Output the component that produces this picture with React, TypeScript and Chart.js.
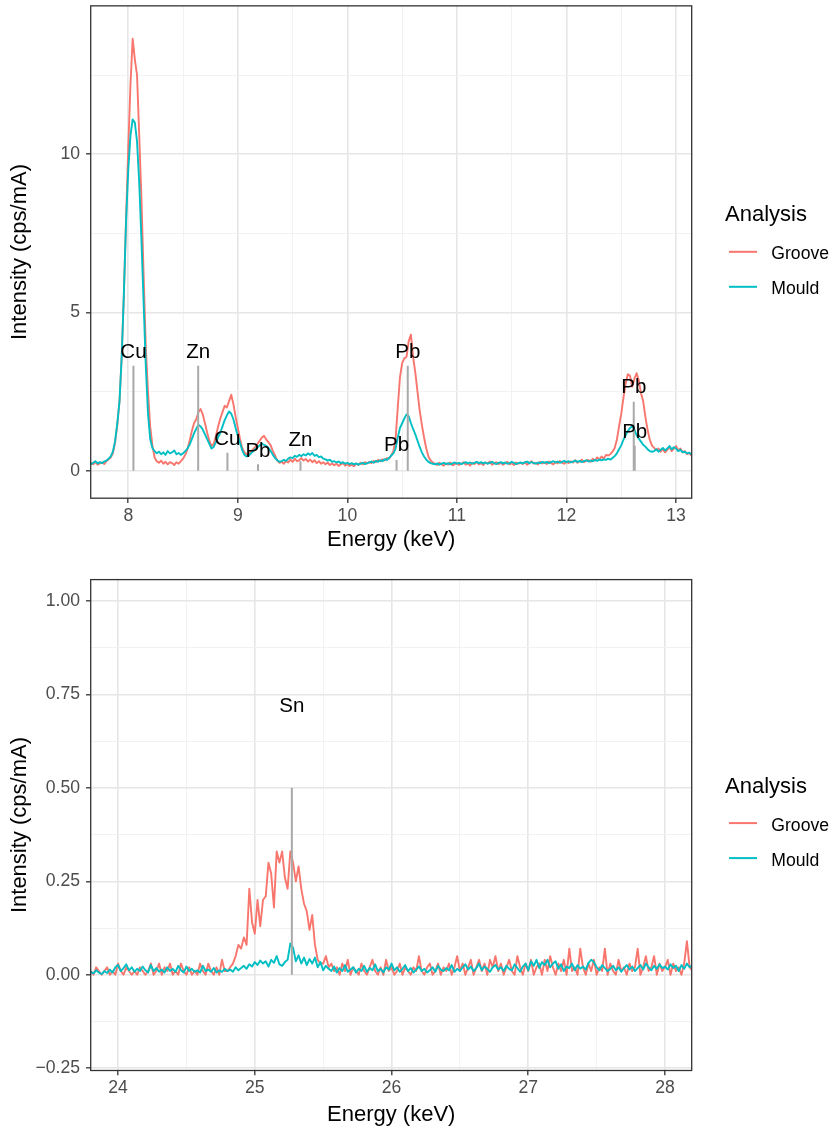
import React, { useEffect, useRef } from "react";
import { Chart, registerables } from "chart.js";

Chart.register(...registerables);

const FONT = '"Liberation Sans", Arial, Helvetica, sans-serif';
const PAGE_W = 835;

const SERIES_NAMES = ["Groove", "Mould"];
const SERIES_COLORS = ["#F8766D", "#00BFC4"];
const REF_COLOR = "#A9A9A9";
const LEGEND_TITLE = "Analysis";
const X_TITLE = "Energy (keV)";
const Y_TITLE = "Intensity (cps/mA)";

const STEP_KEV = 0.02;

// ---------- Upper panel (7.6 – 13.18 keV, 0.02 keV channels) ----------
const TOP_START_KEV = 7.6;
const TOP_GROOVE = [
  0.22, 0.25, 0.18, 0.24, 0.2, 0.28, 0.19, 0.23, 0.26, 0.21,
  0.3, 0.36, 0.42, 0.55, 0.9, 1.45, 2.2, 3.6, 5.6, 8.0,
  10.2, 12.2, 13.65, 13.0, 12.5, 10.6, 8.6, 6.2, 3.9, 2.5,
  1.4, 0.8, 0.42, 0.3, 0.25, 0.32, 0.22, 0.28, 0.2, 0.27,
  0.24, 0.18, 0.27, 0.22, 0.3, 0.38, 0.5, 0.68, 0.95, 1.25,
  1.5, 1.62, 1.85, 1.95, 1.78, 1.5, 1.2, 0.95, 0.78, 0.85,
  1.1, 1.4, 1.65, 1.85, 2.05, 2.0, 2.2, 2.4, 2.1, 1.7,
  1.35, 1.0, 0.72, 0.58, 0.52, 0.55, 0.6, 0.68, 0.75, 0.85,
  0.95, 1.05, 1.1, 0.98, 0.9, 0.8, 0.62, 0.48, 0.32, 0.25,
  0.28, 0.22, 0.3, 0.26, 0.35, 0.28, 0.38, 0.3, 0.33, 0.4,
  0.32, 0.37, 0.29, 0.35, 0.27, 0.33, 0.24, 0.3, 0.22, 0.27,
  0.2, 0.26, 0.18, 0.23, 0.17, 0.22, 0.15, 0.2, 0.24, 0.16,
  0.21, 0.15, 0.19, 0.14, 0.22, 0.18, 0.25, 0.2, 0.27, 0.23,
  0.28, 0.24, 0.31, 0.27, 0.34, 0.3, 0.36, 0.33, 0.4, 0.38,
  0.48, 0.62, 1.0, 2.0, 2.95, 3.4, 3.55, 3.6, 4.1, 4.3,
  3.6, 3.1, 2.5, 1.9, 1.45, 1.05, 0.7, 0.45, 0.32, 0.26,
  0.22, 0.18, 0.25, 0.2, 0.16, 0.23, 0.19, 0.26, 0.17, 0.21,
  0.24, 0.18, 0.22, 0.27, 0.19, 0.23, 0.16, 0.25, 0.21, 0.28,
  0.2, 0.24, 0.18, 0.26, 0.22, 0.29, 0.19, 0.23, 0.27, 0.21,
  0.25, 0.19, 0.23, 0.28, 0.2, 0.24, 0.18, 0.26, 0.22, 0.25,
  0.21, 0.27, 0.19, 0.24, 0.3, 0.22, 0.25, 0.2, 0.28, 0.23,
  0.26, 0.21, 0.29, 0.24, 0.2, 0.27, 0.23, 0.31, 0.25, 0.22,
  0.28, 0.24, 0.3, 0.26, 0.33, 0.25, 0.29, 0.35, 0.27, 0.31,
  0.34, 0.28, 0.38, 0.32, 0.42, 0.35, 0.45, 0.38, 0.5, 0.48,
  0.52, 0.6, 0.72, 0.98, 1.4, 1.8, 2.3, 2.75, 3.05, 3.0,
  2.65, 2.9, 3.08, 2.85, 2.45, 2.2, 1.7, 1.3, 0.98, 0.8,
  0.72, 0.65, 0.7, 0.6, 0.68, 0.58, 0.66, 0.75, 0.62, 0.7,
  0.78, 0.64, 0.7, 0.58, 0.62, 0.52, 0.56, 0.48, 0.55, 0.5,
];
const TOP_MOULD = [
  0.26, 0.22, 0.28, 0.21, 0.25, 0.3, 0.23, 0.27, 0.24, 0.29,
  0.32, 0.38, 0.45, 0.6, 0.95, 1.5, 2.2, 3.6, 5.6, 7.9,
  9.5, 10.6, 11.1, 11.0, 10.4, 9.1, 7.3, 5.3, 3.3, 1.8,
  1.0, 0.72, 0.62, 0.55, 0.6, 0.52, 0.58, 0.5, 0.62, 0.55,
  0.58, 0.64, 0.52, 0.56, 0.5, 0.55, 0.62, 0.7, 0.82, 1.0,
  1.18, 1.32, 1.45, 1.4, 1.3, 1.15, 1.0, 0.85, 0.7, 0.75,
  0.9, 1.05, 1.2, 1.4, 1.6, 1.75, 1.87, 1.8, 1.62, 1.35,
  1.1, 0.88, 0.65, 0.5, 0.45, 0.48, 0.55, 0.62, 0.68, 0.74,
  0.8, 0.85, 0.82, 0.78, 0.72, 0.62, 0.5, 0.4, 0.33, 0.28,
  0.3, 0.34, 0.31, 0.38, 0.42, 0.4, 0.47, 0.44, 0.5, 0.46,
  0.52, 0.48, 0.55, 0.5, 0.56, 0.47, 0.5, 0.43, 0.45, 0.38,
  0.36, 0.32, 0.35, 0.28, 0.3, 0.26, 0.29, 0.24, 0.27, 0.22,
  0.25, 0.21, 0.24, 0.2, 0.23, 0.19, 0.22, 0.25, 0.21, 0.24,
  0.26, 0.29, 0.25, 0.31, 0.28, 0.33, 0.3, 0.36, 0.34, 0.4,
  0.48, 0.55, 0.7, 1.05, 1.35, 1.5, 1.65, 1.78, 1.72, 1.5,
  1.32, 1.15, 0.95, 0.75, 0.58, 0.45, 0.35, 0.28, 0.24, 0.22,
  0.2, 0.23, 0.19, 0.22, 0.25, 0.21, 0.24, 0.2, 0.23, 0.26,
  0.22, 0.25, 0.21, 0.24, 0.27, 0.23, 0.26, 0.22, 0.25, 0.28,
  0.24, 0.27, 0.23, 0.26, 0.22, 0.25, 0.28, 0.24, 0.21, 0.25,
  0.27, 0.23, 0.26, 0.22, 0.24, 0.28, 0.25, 0.21, 0.24, 0.26,
  0.23, 0.26, 0.29, 0.24, 0.27, 0.25, 0.22, 0.26, 0.24, 0.28,
  0.25, 0.28, 0.24, 0.27, 0.3, 0.26, 0.29, 0.25, 0.28, 0.31,
  0.27, 0.3, 0.26, 0.29, 0.32, 0.28, 0.31, 0.27, 0.3, 0.33,
  0.29, 0.32, 0.3, 0.34, 0.31, 0.35, 0.33, 0.36, 0.34, 0.38,
  0.35, 0.4, 0.46, 0.55, 0.68, 0.8, 0.98, 1.12, 1.25, 1.35,
  1.4, 1.3, 1.12, 1.02, 0.92, 0.82, 0.76, 0.68, 0.62, 0.6,
  0.62, 0.68, 0.6, 0.66, 0.72, 0.64, 0.7, 0.78, 0.68, 0.74,
  0.7, 0.62, 0.66, 0.58, 0.6, 0.55, 0.57, 0.52, 0.54, 0.5,
];
const TOP_LINE_LABELS = ["Cu", "Zn", "Cu", "Pb", "Zn", "Pb", "Pb", "Pb", "Pb"];
const TOP_LINE_KEV = [8.047, 8.638, 8.905, 9.184, 9.572, 10.449, 10.551, 12.614, 12.623];
const TOP_LINE_HEIGHT = [3.32, 3.32, 0.57, 0.2, 0.3, 0.34, 3.32, 2.18, 0.79];
const TOP_LABEL_Y = [3.745, 3.745, 0.986, 0.616, 0.97, 0.787, 3.736, 2.63, 1.207];
const TOP_X_MAJOR = [8, 9, 10, 11, 12, 13];
const TOP_X_LABELS = ["8", "9", "10", "11", "12", "13"];
const TOP_X_MINOR = [8.5, 9.5, 10.5, 11.5, 12.5];
const TOP_Y_MAJOR = [0, 5, 10];
const TOP_Y_LABELS = ["0", "5", "10"];
const TOP_Y_MINOR = [2.5, 7.5, 12.5];
const TOP_X_RANGE = [7.657, 13.143];
const TOP_Y_RANGE = [-0.869, 14.69];

// ---------- Lower panel (23.8 – 28.22 keV, 0.02 keV channels) ----------
const BOT_START_KEV = 23.8;
const BOT_GROOVE = [
  0.01, 0.0, 0.02, 0.01, 0.0, 0.01, 0.02, 0.0, 0.01, 0.0,
  0.03, 0.01, 0.0, 0.02, 0.01, 0.0, 0.01, 0.0, 0.02, 0.01,
  0.0, 0.01, 0.03, 0.0, 0.01, 0.03, 0.0, 0.02, 0.01, 0.03,
  0.0, 0.01, 0.0, 0.03, 0.01, 0.0, 0.02, 0.0, 0.01, 0.0,
  0.03, 0.01, 0.0, 0.03, 0.01, 0.0, 0.02, 0.0, 0.04, 0.01,
  0.01, 0.02, 0.03, 0.05, 0.08, 0.07, 0.1, 0.08, 0.23, 0.14,
  0.11, 0.2, 0.13, 0.2, 0.21, 0.3, 0.27, 0.18, 0.33, 0.3,
  0.33, 0.26, 0.23, 0.33, 0.3, 0.25, 0.29, 0.23, 0.19, 0.17,
  0.12, 0.16, 0.08, 0.04, 0.03, 0.03, 0.05, 0.02, 0.03, 0.01,
  0.02, 0.0, 0.03, 0.01, 0.04, 0.0, 0.02, 0.01, 0.0, 0.03,
  0.01, 0.0, 0.02, 0.04, 0.01, 0.0, 0.02, 0.0, 0.04, 0.01,
  0.02, 0.0, 0.01, 0.03, 0.0, 0.02, 0.01, 0.0, 0.02, 0.01,
  0.05, 0.01, 0.0, 0.02, 0.03, 0.0, 0.01, 0.03, 0.0, 0.02,
  0.01, 0.03, 0.0, 0.02, 0.05, 0.01, 0.03, 0.0, 0.02, 0.04,
  0.0, 0.02, 0.04, 0.01, 0.03, 0.0, 0.04, 0.02, 0.05, 0.01,
  0.03, 0.0, 0.02, 0.04, 0.01, 0.0, 0.05, 0.02, 0.0, 0.03,
  0.01, 0.04, 0.0, 0.02, 0.03, 0.0, 0.04, 0.01, 0.05, 0.02,
  0.0, 0.03, 0.01, 0.04, 0.0, 0.07, 0.01, 0.02, 0.0, 0.07,
  0.02, 0.0, 0.03, 0.01, 0.04, 0.0, 0.02, 0.01, 0.07, 0.0,
  0.03, 0.01, 0.0, 0.04, 0.01, 0.02, 0.0, 0.03, 0.01, 0.02,
  0.07, 0.0, 0.02, 0.05, 0.01, 0.02, 0.05, 0.0, 0.03, 0.01,
  0.02, 0.04, 0.0, 0.03, 0.01, 0.02, 0.0, 0.03, 0.09, 0.02,
  0.01, 0.03,
];
const BOT_MOULD = [
  0.008, 0.004, 0.012, 0.006, 0.002, 0.01, 0.005, 0.014, 0.006, 0.02,
  0.026, 0.01, 0.018, 0.028, 0.012, 0.02, 0.008, 0.016, 0.01, 0.022,
  0.012, 0.006, 0.026, 0.01, 0.018, 0.008, 0.014, 0.006, 0.02, 0.01,
  0.016, 0.008, 0.024, 0.012, 0.006, 0.022, 0.01, 0.016, 0.008, 0.012,
  0.006, 0.024, 0.01, 0.014, 0.008, 0.018, 0.006, 0.012, 0.008, 0.016,
  0.01, 0.014, 0.008, 0.02, 0.012, 0.018, 0.024, 0.016, 0.028, 0.022,
  0.034, 0.026, 0.038, 0.03, 0.036, 0.022, 0.04, 0.032, 0.05, 0.028,
  0.024, 0.034, 0.04, 0.084, 0.072, 0.036, 0.052, 0.03, 0.046, 0.026,
  0.042, 0.03, 0.046, 0.02, 0.034, 0.012, 0.024, 0.016, 0.01, 0.022,
  0.006, 0.018, 0.01, 0.026, 0.008, 0.014, 0.02, 0.006, 0.016, 0.01,
  0.024, 0.008, 0.018, 0.012, 0.028, 0.01, 0.016, 0.006, 0.02, 0.014,
  0.03, 0.012, 0.02, 0.008, 0.016, 0.026, 0.01, 0.018, 0.006, 0.014,
  0.022, 0.01, 0.016, 0.006, 0.012, 0.02, 0.008, 0.024, 0.014, 0.01,
  0.018, 0.012, 0.026, 0.008, 0.016, 0.01, 0.02, 0.028, 0.014, 0.022,
  0.01, 0.018, 0.03, 0.012, 0.022, 0.016, 0.008, 0.02, 0.026, 0.014,
  0.02, 0.01, 0.024, 0.016, 0.012, 0.028, 0.018, 0.008, 0.022, 0.03,
  0.012, 0.036, 0.024, 0.04, 0.018, 0.034, 0.026, 0.04, 0.02, 0.03,
  0.036, 0.016, 0.028, 0.01, 0.022, 0.018, 0.03, 0.012, 0.026, 0.016,
  0.022, 0.014, 0.032, 0.04, 0.034, 0.02, 0.012, 0.026, 0.018, 0.01,
  0.016, 0.024, 0.012, 0.02, 0.008, 0.018, 0.026, 0.014, 0.022, 0.01,
  0.018, 0.026, 0.014, 0.03, 0.02, 0.012, 0.024, 0.016, 0.028, 0.018,
  0.022, 0.014, 0.028, 0.018, 0.024, 0.01, 0.026, 0.016, 0.03, 0.02,
  0.026, 0.018,
];
const BOT_LINE_LABELS = ["Sn"];
const BOT_LINE_KEV = [25.271];
const BOT_LINE_HEIGHT = [0.5];
const BOT_LABEL_Y = [0.718];
const BOT_X_MAJOR = [24, 25, 26, 27, 28];
const BOT_X_LABELS = ["24", "25", "26", "27", "28"];
const BOT_X_MINOR = [24.5, 25.5, 26.5, 27.5];
const BOT_Y_MAJOR = [-0.25, 0, 0.25, 0.5, 0.75, 1];
const BOT_Y_LABELS = ["\u22120.25", "0.00", "0.25", "0.50", "0.75", "1.00"];
const BOT_Y_MINOR = [-0.125, 0.125, 0.375, 0.625, 0.875];
const BOT_X_RANGE = [23.8, 28.195];
const BOT_Y_RANGE = [-0.256, 1.057];

type PanelSpec = {
  offsetY: number;
  height: number;
  area: { left: number; right: number; top: number; bottom: number };
  xTitlePad: number;
  legendBaselines: number[];
  startKev: number;
  groove: number[];
  mould: number[];
  lineLabels: string[];
  lineKev: number[];
  lineHeight: number[];
  labelY: number[];
  xMajor: number[];
  xLabels: string[];
  xMinor: number[];
  yMajor: number[];
  yLabels: string[];
  yMinor: number[];
  xRange: number[];
  yRange: number[];
};

const PANELS: PanelSpec[] = [
  {
    offsetY: 0,
    height: 560,
    area: { left: 90.7, right: 691.7, top: 5.85, bottom: 498.2 },
    xTitlePad: 6.7,
    legendBaselines: [220.75, 259.3, 294.3],
    startKev: TOP_START_KEV,
    groove: TOP_GROOVE,
    mould: TOP_MOULD,
    lineLabels: TOP_LINE_LABELS,
    lineKev: TOP_LINE_KEV,
    lineHeight: TOP_LINE_HEIGHT,
    labelY: TOP_LABEL_Y,
    xMajor: TOP_X_MAJOR,
    xLabels: TOP_X_LABELS,
    xMinor: TOP_X_MINOR,
    yMajor: TOP_Y_MAJOR,
    yLabels: TOP_Y_LABELS,
    yMinor: TOP_Y_MINOR,
    xRange: TOP_X_RANGE,
    yRange: TOP_Y_RANGE,
  },
  {
    offsetY: 560,
    height: 571,
    area: { left: 90.7, right: 691.7, top: 19.6, bottom: 510.5 },
    xTitlePad: 2.7,
    legendBaselines: [232.6, 270.6, 305.6],
    startKev: BOT_START_KEV,
    groove: BOT_GROOVE,
    mould: BOT_MOULD,
    lineLabels: BOT_LINE_LABELS,
    lineKev: BOT_LINE_KEV,
    lineHeight: BOT_LINE_HEIGHT,
    labelY: BOT_LABEL_Y,
    xMajor: BOT_X_MAJOR,
    xLabels: BOT_X_LABELS,
    xMinor: BOT_X_MINOR,
    yMajor: BOT_Y_MAJOR,
    yLabels: BOT_Y_LABELS,
    yMinor: BOT_Y_MINOR,
    xRange: BOT_X_RANGE,
    yRange: BOT_Y_RANGE,
  },
];

const GRID_MAJOR = "#E6E6E6";
const GRID_MINOR = "#F1F1F1";
const AXIS_DARK = "#333333";
const TICK_TEXT = "#4D4D4D";

function findIndex(list: number[], v: number) {
  for (let i = 0; i < list.length; i++) if (Math.abs(list[i] - v) < 1e-9) return i;
  return -1;
}

function buildConfig(s: PanelSpec): any {
  const kev = s.groove.map((_, i) => Math.round((s.startKev + i * STEP_KEV) * 1000) / 1000);
  const groovePts = s.groove.map((y, i) => ({ x: kev[i], y }));
  const mouldPts = s.mould.map((y, i) => ({ x: kev[i], y }));
  const refPts: any[] = [];
  s.lineKev.forEach((e, i) => {
    refPts.push({ x: e, y: 0 }, { x: e, y: s.lineHeight[i] }, { x: e, y: null });
  });

  const axisCommon = (major: number[], labels: string[], minor: number[]) => ({
    type: "linear",
    bounds: "data",
    afterBuildTicks: (scale: any) => {
      scale.ticks = [...major, ...minor].sort((a, b) => a - b).map((v) => ({ value: v }));
    },
    ticks: {
      autoSkip: false,
      maxRotation: 0,
      minRotation: 0,
      color: TICK_TEXT,
      font: { family: FONT, size: 17.6 },
      callback: (v: number) => {
        const k = findIndex(major, v);
        return k >= 0 ? labels[k] : "";
      },
    },
    grid: {
      drawOnChartArea: true,
      drawTicks: true,
      tickLength: 4.7,
      tickWidth: 1.3,
      color: (c: any) => (c.tick && findIndex(major, c.tick.value) >= 0 ? GRID_MAJOR : GRID_MINOR),
      lineWidth: (c: any) => (c.tick && findIndex(major, c.tick.value) >= 0 ? 1.6 : 0.9),
      tickColor: (c: any) =>
        c.tick && findIndex(major, c.tick.value) >= 0 ? AXIS_DARK : "rgba(0,0,0,0)",
    },
    border: { display: false },
  });

  const decor = {
    id: "panelDecor",
    afterDatasetsDraw(chart: any) {
      const { ctx, chartArea } = chart;
      const xs = chart.scales.x;
      const ys = chart.scales.y;
      ctx.save();
      ctx.beginPath();
      ctx.rect(chartArea.left, chartArea.top, chartArea.right - chartArea.left, chartArea.bottom - chartArea.top);
      ctx.clip();
      ctx.font = `20.5px ${FONT}`;
      ctx.fillStyle = "#000000";
      ctx.textAlign = "center";
      ctx.textBaseline = "middle";
      s.lineLabels.forEach((lab, i) => {
        ctx.fillText(lab, xs.getPixelForValue(s.lineKev[i]), ys.getPixelForValue(s.labelY[i]));
      });
      ctx.restore();
    },
    afterDraw(chart: any) {
      const { ctx, chartArea } = chart;
      ctx.save();
      ctx.strokeStyle = AXIS_DARK;
      ctx.lineWidth = 1.3;
      ctx.strokeRect(chartArea.left, chartArea.top, chartArea.right - chartArea.left, chartArea.bottom - chartArea.top);

      const [bTitle, b1, b2] = s.legendBaselines;
      ctx.textAlign = "left";
      ctx.textBaseline = "alphabetic";
      ctx.fillStyle = "#000000";
      ctx.font = `22px ${FONT}`;
      ctx.fillText(LEGEND_TITLE, 725, bTitle);
      ctx.font = `17.6px ${FONT}`;
      [b1, b2].forEach((b, i) => {
        ctx.fillText(SERIES_NAMES[i], 771.3, b);
        ctx.strokeStyle = SERIES_COLORS[i];
        ctx.lineWidth = 2;
        ctx.beginPath();
        ctx.moveTo(729, b - 7.5);
        ctx.lineTo(757, b - 7.5);
        ctx.stroke();
      });
      ctx.restore();
    },
  };

  const a = s.area;
  return {
    type: "scatter",
    data: {
      datasets: [
        {
          label: "lines",
          data: refPts,
          showLine: true,
          spanGaps: false,
          borderColor: REF_COLOR,
          backgroundColor: REF_COLOR,
          borderWidth: 2,
          pointRadius: 0,
          order: 0,
        },
        {
          label: SERIES_NAMES[1],
          data: mouldPts,
          showLine: true,
          borderColor: SERIES_COLORS[1],
          backgroundColor: SERIES_COLORS[1],
          borderWidth: 1.9,
          pointRadius: 0,
          borderJoinStyle: "round",
          order: 1,
        },
        {
          label: SERIES_NAMES[0],
          data: groovePts,
          showLine: true,
          borderColor: SERIES_COLORS[0],
          backgroundColor: SERIES_COLORS[0],
          borderWidth: 1.9,
          pointRadius: 0,
          borderJoinStyle: "round",
          order: 2,
        },
      ],
    },
    options: {
      animation: false,
      responsive: false,
      events: [],
      elements: { line: { tension: 0 } },
      layout: { padding: { top: a.top, right: PAGE_W - a.right, bottom: 0, left: 0 } },
      plugins: { legend: { display: false }, tooltip: { enabled: false } },
      scales: {
        x: {
          ...axisCommon(s.xMajor, s.xLabels, s.xMinor),
          position: "bottom",
          min: s.xRange[0],
          max: s.xRange[1],
          ticks: { ...axisCommon(s.xMajor, s.xLabels, s.xMinor).ticks, padding: 2.5 },
          title: {
            display: true,
            text: X_TITLE,
            color: "#000000",
            font: { family: FONT, size: 22 },
            padding: { top: 0, bottom: s.xTitlePad },
          },
          afterFit: (scale: any) => {
            scale.height = s.height - a.bottom;
            scale.paddingLeft = 0;
            scale.paddingRight = 0;
            scale.paddingTop = 0;
            scale.paddingBottom = 0;
          },
        },
        y: {
          ...axisCommon(s.yMajor, s.yLabels, s.yMinor),
          position: "left",
          min: s.yRange[0],
          max: s.yRange[1],
          ticks: { ...axisCommon(s.yMajor, s.yLabels, s.yMinor).ticks, padding: 6 },
          title: {
            display: true,
            text: Y_TITLE,
            color: "#000000",
            font: { family: FONT, size: 22 },
            padding: { top: 6.6, bottom: 0 },
          },
          afterFit: (scale: any) => {
            scale.width = a.left;
            scale.paddingLeft = 0;
            scale.paddingRight = 0;
            scale.paddingTop = 0;
            scale.paddingBottom = 0;
          },
        },
      },
    },
    plugins: [decor],
  };
}

function Panel({ spec }: { spec: PanelSpec }) {
  const ref = useRef<HTMLCanvasElement>(null);
  useEffect(() => {
    if (!ref.current) return;
    const chart = new Chart(ref.current, buildConfig(spec));
    return () => chart.destroy();
  }, [spec]);
  return (
    <canvas
      ref={ref}
      width={PAGE_W}
      height={spec.height}
      style={{
        position: "absolute",
        left: 0,
        top: spec.offsetY,
        width: PAGE_W,
        height: spec.height,
        display: "block",
      }}
    />
  );
}

export default function App() {
  return (
    <div
      style={{
        position: "absolute",
        left: 0,
        top: 0,
        width: PAGE_W,
        height: 1131,
        background: "#ffffff",
        overflow: "hidden",
      }}
    >
      {PANELS.map((p, i) => (
        <Panel key={i} spec={p} />
      ))}
    </div>
  );
}
